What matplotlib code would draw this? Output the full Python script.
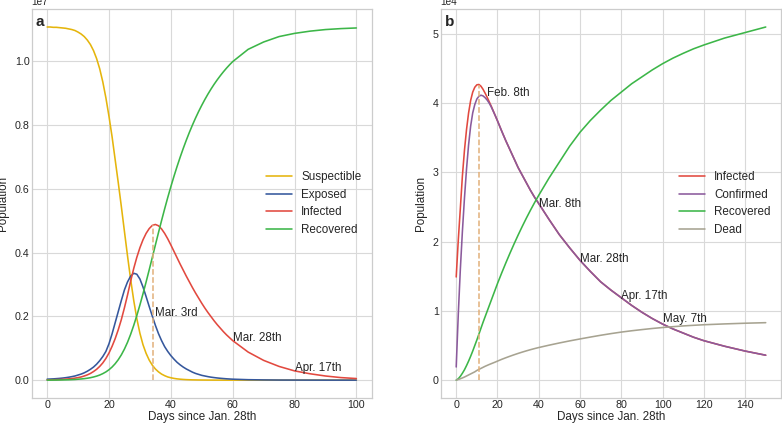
import numpy as np
import matplotlib
matplotlib.use("Agg")
import matplotlib.pyplot as plt

plt.style.use("seaborn-v0_8-whitegrid")
plt.rcParams['font.family'] = ['Liberation Sans', 'DejaVu Sans']

# ---- panel a: SEIR model (values in 1e7) ----
days_a = list(range(0, 61)) + list(range(65, 101, 5))
suspectible = [1.107, 1.107, 1.106, 1.106, 1.105, 1.104, 1.103, 1.101, 1.099, 1.096,
               1.091, 1.085, 1.077, 1.066, 1.052, 1.033, 1.008, 0.976, 0.935, 0.885,
               0.827, 0.763, 0.691, 0.619, 0.544, 0.466, 0.389, 0.316, 0.25, 0.193,
               0.147, 0.111, 0.084, 0.063, 0.047, 0.035, 0.026, 0.019, 0.014, 0.010,
               0.0075, 0.0055, 0.004, 0.003, 0.0022, 0.0016, 0.0012, 0.0009, 0.0007, 0.0005,
               0.0004, 0.0003, 0.0002, 0.0002, 0.0001, 0.0001, 0.0001, 0, 0, 0, 0,
               0, 0, 0, 0, 0, 0, 0, 0]
exposed = [0.003, 0.0035, 0.004, 0.0047, 0.0055, 0.0065, 0.0077, 0.0092, 0.011, 0.013,
           0.016, 0.019, 0.023, 0.028, 0.034, 0.041, 0.05, 0.061, 0.074, 0.09,
           0.114, 0.145, 0.18, 0.215, 0.25, 0.283, 0.308, 0.326, 0.335, 0.332,
           0.317, 0.292, 0.262, 0.231, 0.201, 0.172, 0.146, 0.124, 0.105, 0.09,
           0.077, 0.066, 0.056, 0.048, 0.041, 0.035, 0.03, 0.025, 0.021, 0.018,
           0.015, 0.013, 0.011, 0.0093, 0.008, 0.0068, 0.0058, 0.005, 0.0042, 0.0036, 0.003,
           0.0014, 0.0007, 0.0003, 0.0002, 0.0001, 0, 0, 0]
infected_a = [0.0008, 0.001, 0.0013, 0.0016, 0.002, 0.0025, 0.0032, 0.004, 0.005, 0.0063,
              0.008, 0.010, 0.013, 0.0165, 0.021, 0.027, 0.034, 0.043, 0.054, 0.068,
              0.085, 0.106, 0.13, 0.158, 0.19, 0.227, 0.267, 0.31, 0.35, 0.385,
              0.415, 0.44, 0.46, 0.475, 0.485, 0.488, 0.484, 0.474, 0.46, 0.443,
              0.424, 0.404, 0.384, 0.364, 0.345, 0.326, 0.308, 0.29, 0.273, 0.257,
              0.241, 0.226, 0.212, 0.199, 0.186, 0.174, 0.163, 0.152, 0.142, 0.133, 0.124,
              0.088, 0.062, 0.043, 0.029, 0.02, 0.013, 0.008, 0.005]
recovered_a = [0, 0.0001, 0.0002, 0.0003, 0.0005, 0.0007, 0.0009, 0.0012, 0.0016, 0.0021,
               0.0029, 0.0037, 0.0047, 0.006, 0.0077, 0.0099, 0.0126, 0.016, 0.0204, 0.0258,
               0.0326, 0.0411, 0.0515, 0.0641, 0.0793, 0.0975, 0.1188, 0.1436, 0.1716, 0.2024,
               0.2356, 0.2708, 0.3076, 0.3456, 0.3844, 0.4235, 0.4622, 0.5001, 0.5369, 0.5724,
               0.6063, 0.6386, 0.6693, 0.6984, 0.726, 0.7521, 0.7768, 0.80, 0.8218, 0.8424,
               0.8616, 0.8797, 0.8967, 0.9126, 0.9275, 0.9414, 0.9544, 0.9666, 0.978, 0.9886, 0.9985,
               1.037, 1.06, 1.077, 1.087, 1.094, 1.099, 1.102, 1.104]
peak_a = (34.1, 0.487)
notes_a = [("Mar. 3rd", 35, 0.2), ("Mar. 28th", 60, 0.124), ("Apr. 17th", 80, 0.029)]

# ---- panel b: fitted curves (values in 1e4) ----
days_b = list(range(0, 21)) + list(range(22, 41, 2)) + list(range(45, 151, 5))
infected_b = [1.49, 2.02, 2.48, 2.95, 3.32, 3.62, 3.86, 4.04, 4.16, 4.23,
              4.265, 4.27, 4.245, 4.2, 4.145, 4.085, 4.02, 3.955, 3.885, 3.815, 3.745,
              3.6, 3.46, 3.33, 3.2, 3.07, 2.96, 2.85, 2.74, 2.64, 2.55,
              2.32, 2.1, 1.91, 1.73, 1.57, 1.42, 1.3, 1.19, 1.08, 0.98, 0.89,
              0.81, 0.74, 0.68, 0.62, 0.57, 0.53, 0.49, 0.455, 0.42, 0.39, 0.36]
confirmed = [0.19, 0.95, 1.6, 2.15, 2.63, 3.05, 3.4, 3.67, 3.86, 3.98,
             4.06, 4.1, 4.115, 4.105, 4.08, 4.045, 4.0, 3.945, 3.88, 3.815, 3.745,
             3.6, 3.46, 3.33, 3.2, 3.07, 2.96, 2.85, 2.74, 2.64, 2.55,
             2.32, 2.1, 1.91, 1.73, 1.57, 1.42, 1.3, 1.19, 1.08, 0.98, 0.89,
             0.81, 0.74, 0.68, 0.62, 0.57, 0.53, 0.49, 0.455, 0.42, 0.39, 0.36]
recovered_b = [0, 0.02, 0.055, 0.1, 0.15, 0.21, 0.275, 0.345, 0.42, 0.5,
               0.58, 0.665, 0.75, 0.835, 0.915, 0.995, 1.075, 1.155, 1.235, 1.315, 1.395,
               1.545, 1.69, 1.83, 1.965, 2.095, 2.22, 2.34, 2.455, 2.565, 2.67,
               2.92, 3.15, 3.38, 3.58, 3.75, 3.9, 4.04, 4.16, 4.28, 4.38, 4.48,
               4.57, 4.65, 4.72, 4.785, 4.84, 4.89, 4.94, 4.98, 5.02, 5.06, 5.1]
dead = [0, 0.01, 0.02, 0.032, 0.045, 0.06, 0.075, 0.09, 0.105, 0.12,
        0.14, 0.155, 0.17, 0.185, 0.2, 0.213, 0.226, 0.238, 0.25, 0.262, 0.275,
        0.3, 0.323, 0.345, 0.366, 0.386, 0.405, 0.423, 0.44, 0.456, 0.471,
        0.505, 0.537, 0.567, 0.595, 0.622, 0.648, 0.672, 0.694, 0.713, 0.73, 0.746,
        0.76, 0.772, 0.783, 0.792, 0.80, 0.806, 0.812, 0.817, 0.822, 0.826, 0.83]
peak_b = (11.1, 4.26)
notes_b = [("Feb. 8th", 15, 4.1), ("Mar. 8th", 40, 2.5), ("Mar. 28th", 60, 1.7),
           ("Apr. 17th", 80, 1.17), ("May. 7th", 100, 0.84)]

c_yel = '#e5b50c'
c_blue = '#35579c'
c_red = '#e2493f'
c_green = '#3cb648'
c_purple = '#8b5a9c'
c_dead = '#a7a391'
c_dash = '#e2b07a'
lw = 1.15

fig = plt.figure(figsize=(7.82, 4.25), dpi=100)
ax1 = fig.add_axes([0.0405, 0.064, 0.435, 0.914])
ax2 = fig.add_axes([0.5636, 0.064, 0.4354, 0.914])

s = 1e7
ax1.plot(days_a, np.array(suspectible) * s, color=c_yel, lw=lw, label='Suspectible')
ax1.plot(days_a, np.array(exposed) * s, color=c_blue, lw=lw, label='Exposed')
ax1.plot(days_a, np.array(infected_a) * s, color=c_red, lw=lw, label='Infected')
ax1.plot(days_a, np.array(recovered_a) * s, color=c_green, lw=lw, label='Recovered')
ax1.vlines(peak_a[0], 0, peak_a[1] * s, colors=c_dash, linestyles='--', lw=1.1)
for t, x, y in notes_a:
    ax1.text(x, y * s, t, fontsize=8.4)
ax1.text(0.012, 0.985, 'a', transform=ax1.transAxes, fontsize=11,
         fontweight='bold', va='top')

s = 1e4
ax2.plot(days_b, np.array(infected_b) * s, color=c_red, lw=lw, label='Infected')
ax2.plot(days_b, np.array(confirmed) * s, color=c_purple, lw=lw, label='Confirmed')
ax2.plot(days_b, np.array(recovered_b) * s, color=c_green, lw=lw, label='Recovered')
ax2.plot(days_b, np.array(dead) * s, color=c_dead, lw=lw, label='Dead')
ax2.vlines(peak_b[0], 0, peak_b[1] * s, colors=c_dash, linestyles='--', lw=1.1)
for t, x, y in notes_b:
    ax2.text(x, y * s, t, fontsize=8.4)
ax2.text(0.012, 0.985, 'b', transform=ax2.transAxes, fontsize=11,
         fontweight='bold', va='top')
ax2.ticklabel_format(axis='y', style='sci', scilimits=(0, 0))

for ax in (ax1, ax2):
    ax.set_xlabel('Days since Jan. 28th', fontsize=8.4, labelpad=1)
    ax.set_ylabel('Population', fontsize=8.4, labelpad=4)
    ax.tick_params(labelsize=7.7, pad=1.5)
    ax.yaxis.get_offset_text().set_fontsize(7.2)
    ax.legend(loc='center right', fontsize=8.4, frameon=False, handlelength=2.2)
    for sp in ax.spines.values():
        sp.set_visible(True)
        sp.set_color('#cccccc')
        sp.set_linewidth(0.9)
    ax.grid(color='#d9d9d9', lw=0.8)

fig.savefig('out.png', dpi=100)
